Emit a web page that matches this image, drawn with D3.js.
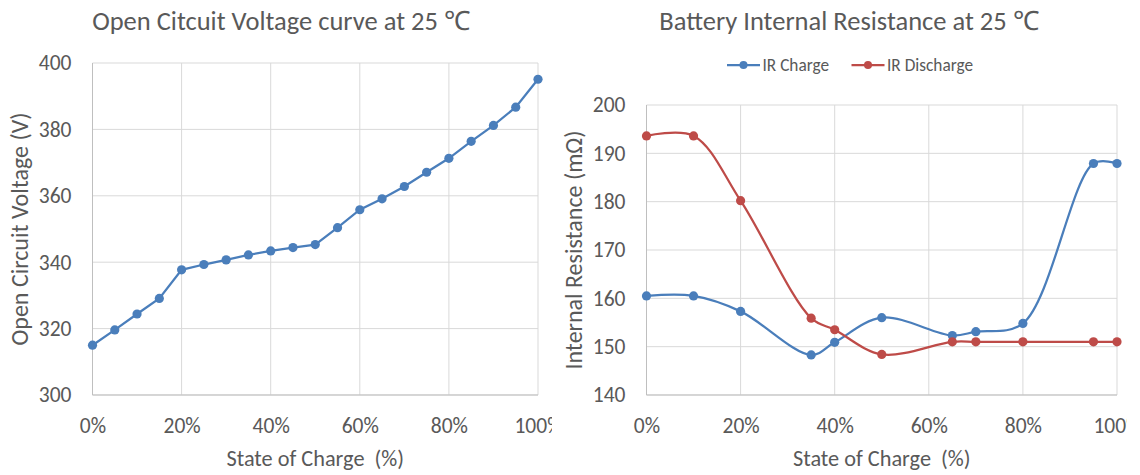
<!DOCTYPE html>
<html><head><meta charset="utf-8">
<script src="https://cdn.jsdelivr.net/npm/d3@7"></script>
<style>
body{margin:0;background:#fff;}
svg text{font-family:Carlito,"Open Sans",sans-serif;fill:#595959;}
.grid line{stroke:#d9d9d9;stroke-width:1;}
</style></head>
<body>
<svg id="c" width="1140" height="475"></svg>
<script>
// ---- data ----
const ocvSoc = [0,0.05,0.10,0.15,0.20,0.25,0.30,0.35,0.40,0.45,0.50,0.55,0.60,0.65,0.70,0.75,0.80,0.85,0.90,0.95,1.00];
const ocvVolt = [315.0,319.6,324.4,329.1,337.7,339.3,340.7,342.2,343.4,344.4,345.3,350.4,355.8,359.1,362.8,367.1,371.3,376.4,381.2,386.7,395.1];
const ocvYTicks = [300,320,340,360,380,400];
const socTicks = [0,0.2,0.4,0.6,0.8,1.0];

const irSoc = [0,0.10,0.20,0.35,0.40,0.50,0.65,0.70,0.80,0.95,1.00];
const irCharge = [160.5,160.5,157.3,148.3,150.9,156.0,152.3,153.1,154.8,187.9,187.9];
const irDischarge = [193.6,193.6,180.2,155.9,153.5,148.4,151.0,151.0,151.0,151.0,151.0];
const irYTicks = [140,150,160,170,180,190,200];
const seriesNames = ["IR Charge","IR Discharge"];

const BLUE = "#4a7ebb", RED = "#be4b48";
const svg = d3.select("#c");
const defs = svg.append("defs");
defs.append("clipPath").attr("id","clipL").append("rect").attr("x",0).attr("y",0).attr("width",552).attr("height",475);
defs.append("clipPath").attr("id","clipR").append("rect").attr("x",556).attr("y",0).attr("width",571).attr("height",475);

function panel(g, x, y, yTicks, xTitle, yTitle, yTitleX, title, titleX){
  const [x0,x1] = x.range(), [yb,yt] = y.range();
  const grid = g.append("g").attr("class","grid");
  grid.selectAll(".h").data(yTicks).join("line")
    .attr("x1",x0).attr("x2",x1).attr("y1",d=>y(d)).attr("y2",d=>y(d));
  grid.selectAll(".v").data(socTicks).join("line")
    .attr("y1",yt).attr("y2",yb).attr("x1",d=>x(d)).attr("x2",d=>x(d));
  g.append("line").attr("x1",x0).attr("x2",x1).attr("y1",yb).attr("y2",yb).attr("stroke","#bfbfbf");
  g.append("line").attr("x1",x0).attr("x2",x0).attr("y1",yt).attr("y2",yb).attr("stroke","#bfbfbf");
  const ya = g.append("g").attr("transform",`translate(${x0},0)`)
    .call(d3.axisLeft(y).tickValues(yTicks).tickSize(0).tickPadding(21));
  ya.select(".domain").remove();
  ya.selectAll("text").attr("font-size",21.5).attr("fill","#595959").attr("font-family",null);
  const xa = g.append("g").attr("transform",`translate(0,${yb})`)
    .call(d3.axisBottom(x).tickValues(socTicks).tickFormat(d3.format(".0%")).tickSize(0).tickPadding(23));
  xa.select(".domain").remove();
  xa.selectAll("text").attr("font-size",21.5).attr("fill","#595959").attr("font-family",null);
  g.append("text").attr("x",(x0+x1)/2).attr("y",466).attr("text-anchor","middle")
    .attr("font-size",22.3).style("white-space","pre").text(xTitle);
  g.append("text").attr("transform",`translate(${yTitleX},${(yt+yb)/2}) rotate(-90)`)
    .attr("text-anchor","middle").attr("font-size",24).text(yTitle);
  g.append("text").attr("x",titleX).attr("y",30).attr("text-anchor","middle")
    .attr("font-size",26.5).text(title);
}

// ---- left chart ----
const gL = svg.append("g").attr("clip-path","url(#clipL)");
const xL = d3.scaleLinear().domain([0,1]).range([92.5,538]);
const yL = d3.scaleLinear().domain([300,400]).range([395,63]);
panel(gL, xL, yL, ocvYTicks, "State of Charge  (%)", "Open Circuit Voltage (V)", 28, "Open Citcuit Voltage curve at 25 \u2103", 281);
const ocvPts = ocvSoc.map((s,i)=>[s,ocvVolt[i]]);
gL.append("path").datum(ocvPts).attr("fill","none").attr("stroke",BLUE).attr("stroke-width",2.25)
  .attr("d", d3.line().x(d=>xL(d[0])).y(d=>yL(d[1])));
gL.selectAll(".pt").data(ocvPts).join("circle").attr("cx",d=>xL(d[0])).attr("cy",d=>yL(d[1])).attr("r",4.6).attr("fill",BLUE);

// ---- right chart ----
const gR = svg.append("g").attr("clip-path","url(#clipR)");
const xR = d3.scaleLinear().domain([0,1]).range([646.5,1117]);
const yR = d3.scaleLinear().domain([140,200]).range([395,105]);
panel(gR, xR, yR, irYTicks, "State of Charge  (%)", "Internal Resistance (m\u03A9)", 582, "Battery Internal Resistance at 25 \u2103", 849);
const series = [
  {name:seriesNames[0], color:BLUE, vals:irCharge},
  {name:seriesNames[1], color:RED, vals:irDischarge}
];
const smooth = d3.line().x(d=>xR(d[0])).y(d=>yR(d[1])).curve(d3.curveCatmullRom.alpha(0.5));
series.forEach(s=>{
  const pts = irSoc.map((v,i)=>[v,s.vals[i]]);
  gR.append("path").datum(pts).attr("fill","none").attr("stroke",s.color).attr("stroke-width",2.25).attr("d",smooth);
  gR.selectAll(null).data(pts).join("circle").attr("cx",d=>xR(d[0])).attr("cy",d=>yR(d[1])).attr("r",4.6).attr("fill",s.color);
});
// legend
const legX = [727, 851.5];
const leg = svg.append("g");
series.forEach((s,i)=>{
  const lg = leg.append("g").attr("transform",`translate(${legX[i]},65)`);
  lg.append("line").attr("x1",0).attr("x2",33).attr("stroke",s.color).attr("stroke-width",2.25);
  lg.append("circle").attr("cx",16.5).attr("r",4).attr("fill",s.color);
  lg.append("text").attr("x",35.5).attr("y",6).attr("font-size",17.3).text(s.name);
});
</script>
</body></html>
